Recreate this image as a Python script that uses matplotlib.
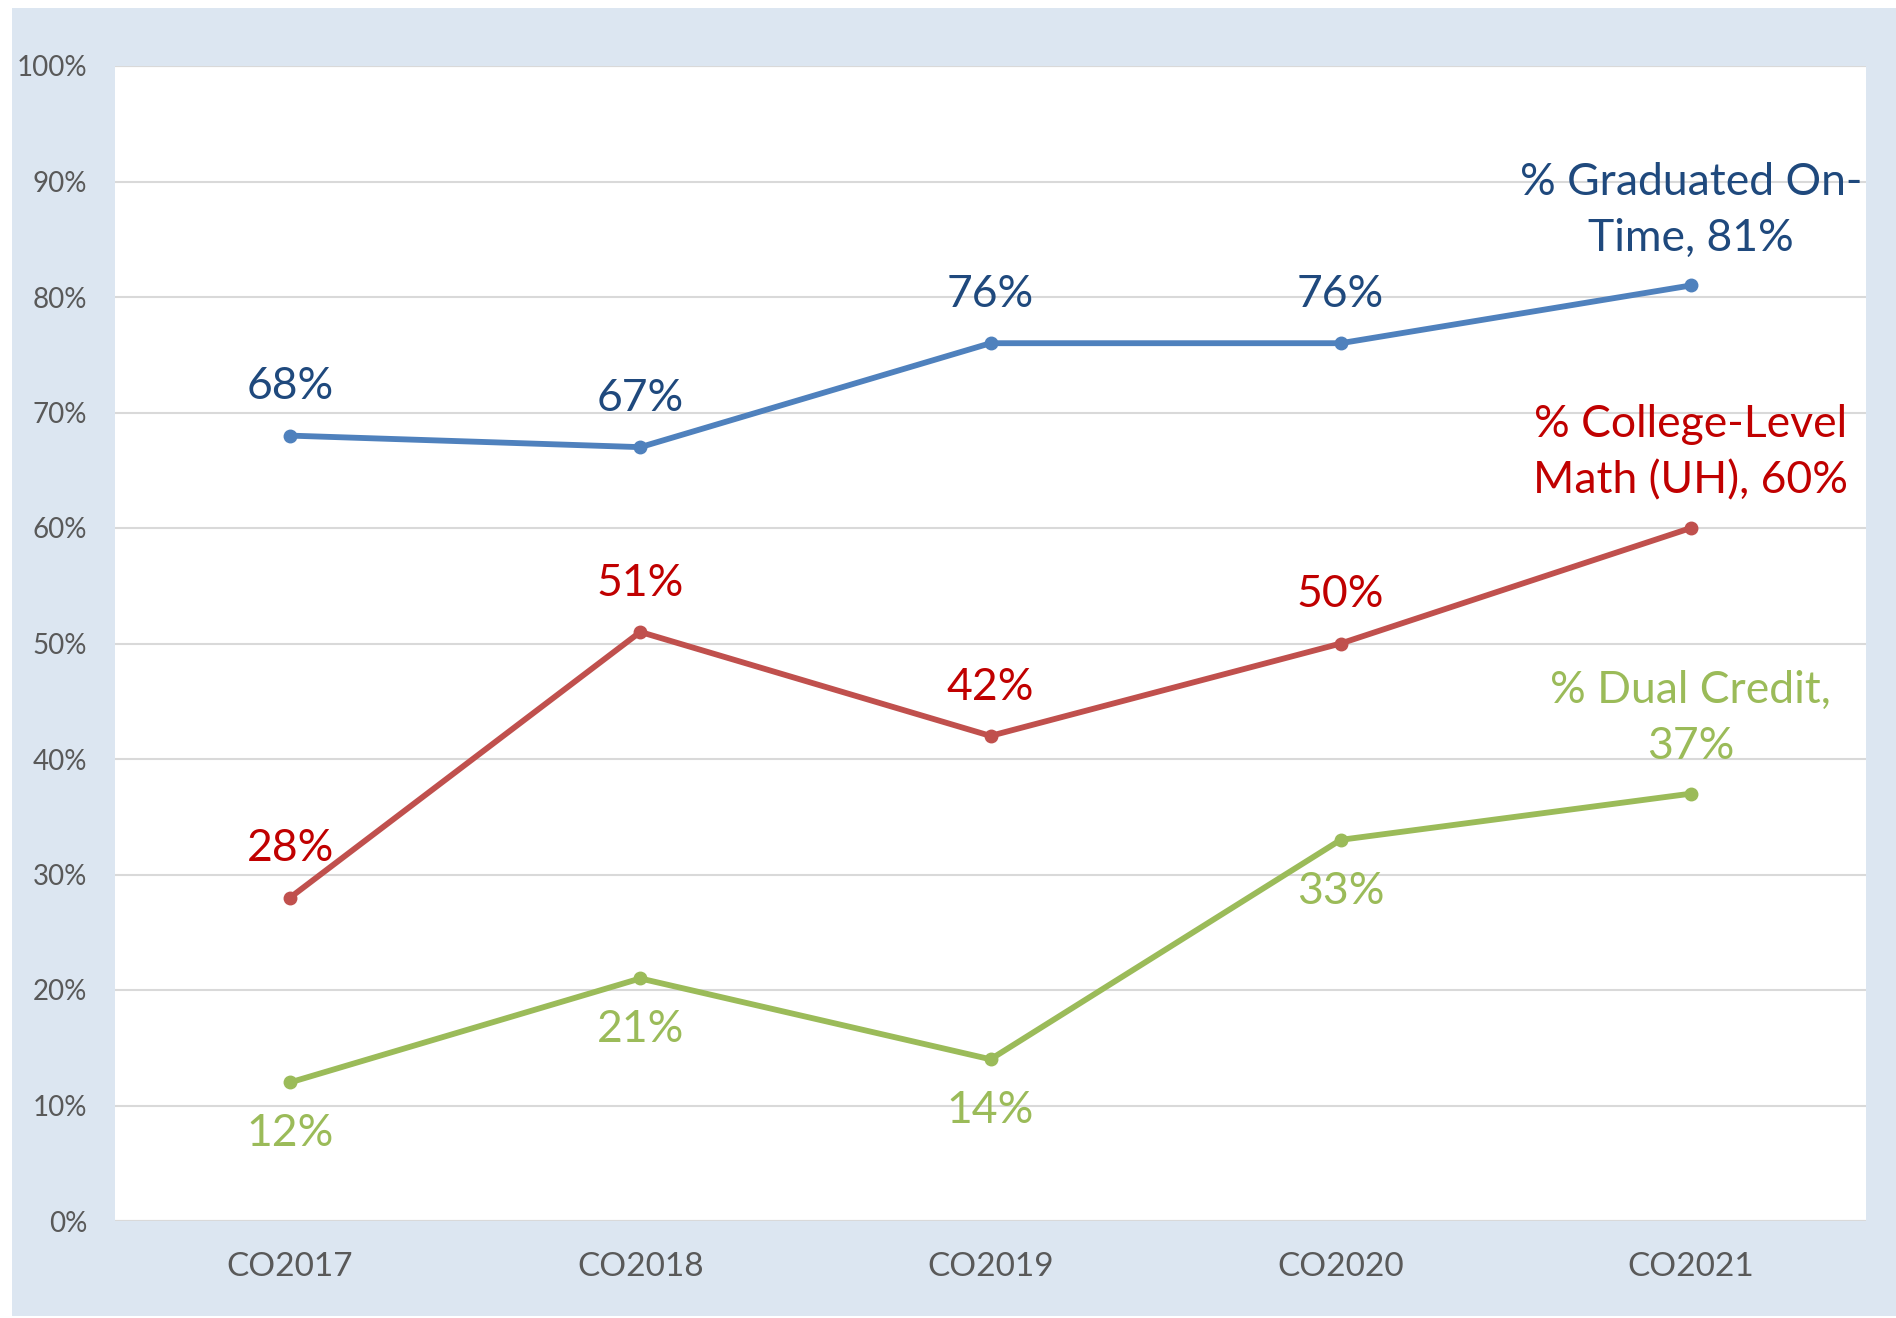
import matplotlib.pyplot as plt
from matplotlib.patches import Rectangle

# data
cohorts = ["CO2017", "CO2018", "CO2019", "CO2020", "CO2021"]
grad_ontime = [68, 67, 76, 76, 81]
college_math = [28, 51, 42, 50, 60]
dual_credit = [12, 21, 14, 33, 37]

# label placement: +1 above the point, -1 below
grad_side = [1, 1, 1, 1, 1]
math_side = [1, 1, 1, 1, 1]
dual_side = [-1, -1, -1, -1, 1]

grad_name = "% Graduated On-\nTime, "
math_name = "% College-Level\nMath (UH), "
dual_name = "% Dual Credit,\n"

plt.rcParams['font.family'] = ['Lato', 'DejaVu Sans']

W, H = 1896, 1318
fig = plt.figure(figsize=(W / 100, H / 100), dpi=100, facecolor='white')
fig.patches.append(Rectangle((12 / W, 2 / H), 1 - 12 / W, 1 - 10 / H,
                             transform=fig.transFigure, facecolor='#dce6f1',
                             edgecolor='none', zorder=-10))

ax = fig.add_axes([115 / W, 1 - 1221 / H, (1866 - 115) / W, (1221 - 66) / H])
ax.set_facecolor('white')

x = list(range(len(cohorts)))

series = [
    (grad_ontime, grad_side, grad_name, '#4f81bd', '#1f497d'),
    (college_math, math_side, math_name, '#c0504d', '#c00000'),
    (dual_credit, dual_side, dual_name, '#9bbb59', '#9bbb59'),
]

for vals, sides, name, lc, tc in series:
    ax.plot(x, vals, color=lc, lw=4.2, marker='o', ms=9, zorder=3,
            solid_capstyle='round')
    for i, v in enumerate(vals):
        if i == len(vals) - 1:
            txt = name + f"{v}%"
            off = 54
        else:
            txt = f"{v}%"
            off = 35 * sides[i] if sides[i] > 0 else -37
        ax.annotate(txt, (i, v), xytext=(0, off), textcoords='offset points',
                    ha='center', va='center', fontsize=32, color=tc,
                    linespacing=1.45, zorder=4)

ax.set_xlim(-0.5, 4.5)
ax.set_ylim(0, 100)
ax.set_yticks(range(0, 101, 10))
ax.set_yticklabels([f"{t}%" for t in range(0, 101, 10)])
ax.set_xticks(x)
ax.set_xticklabels(cohorts)
ax.tick_params(axis='y', length=0, pad=20, labelsize=20, labelcolor='#595959')
ax.tick_params(axis='x', length=0, pad=22, labelsize=24, labelcolor='#595959')
ax.grid(axis='y', color='#d9d9d9', lw=1.5, zorder=1)
ax.set_axisbelow(True)
for s in ax.spines.values():
    s.set_visible(False)
ax.axhline(0, color='#d9d9d9', lw=1.5, zorder=1)
ax.axhline(100, color='#d9d9d9', lw=1.5, zorder=1)

fig.savefig("out.png", dpi=100, facecolor=fig.get_facecolor())
